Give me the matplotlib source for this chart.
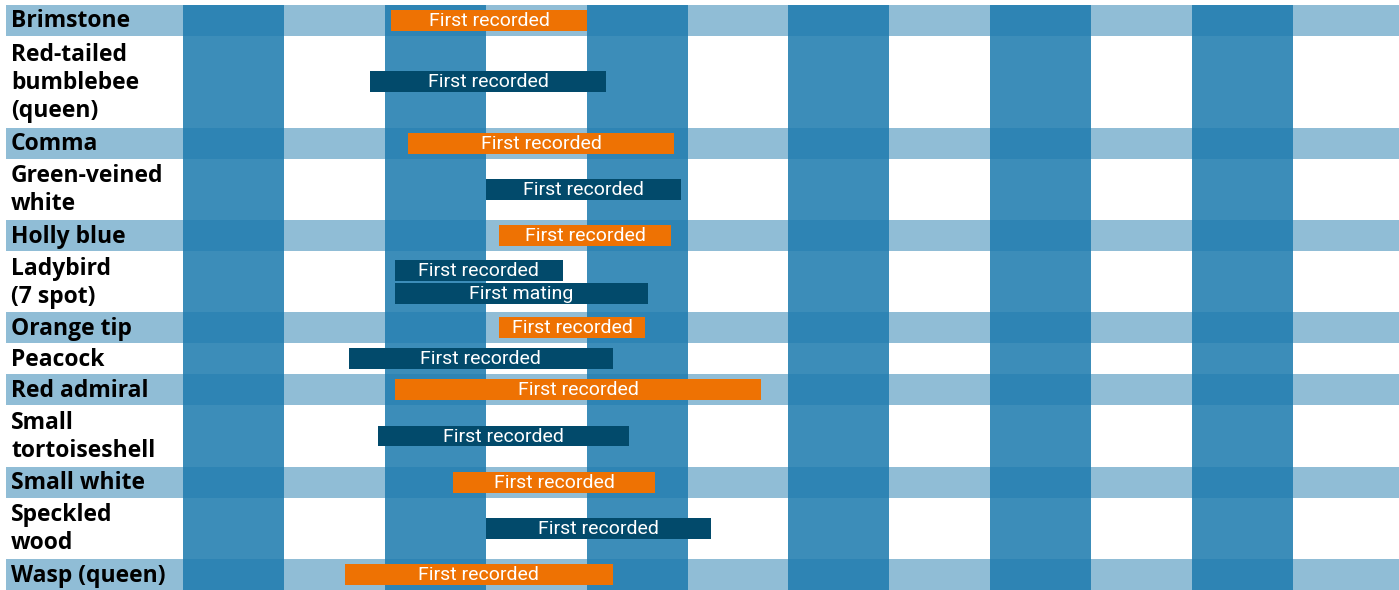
import calendar
import matplotlib
matplotlib.use("Agg")
import matplotlib.pyplot as plt
from matplotlib.patches import Rectangle

# species rows, top to bottom
species = ["Brimstone", "Red-tailed\nbumblebee\n(queen)", "Comma", "Green-veined\nwhite",
           "Holly blue", "Ladybird\n(7 spot)", "Orange tip", "Peacock", "Red admiral",
           "Small\ntortoiseshell", "Small white", "Speckled\nwood", "Wasp (queen)"]
# events per species (mm-dd)
events = [["First recorded"], ["First recorded"], ["First recorded"], ["First recorded"],
          ["First recorded"], ["First recorded", "First mating"], ["First recorded"],
          ["First recorded"], ["First recorded"], ["First recorded"], ["First recorded"],
          ["First recorded"], ["First recorded"]]
starts = [["03-03"], ["02-25"], ["03-08"], ["04-01"], ["04-05"], ["03-04", "03-04"],
          ["04-05"], ["02-19"], ["03-04"], ["02-27"], ["03-22"], ["04-01"], ["02-18"]]
ends = [["05-01"], ["05-07"], ["05-28"], ["05-30"], ["05-27"], ["04-24", "05-20"],
        ["05-19"], ["05-09"], ["06-23"], ["05-14"], ["05-22"], ["06-08"], ["05-09"]]
months = list(range(12))

LIGHT = "#90BDD6"
COL = "#217DB0"
ORANGE = "#EE7203"
NAVY = "#024A6B"


def month_pos(s):
    m, d = (int(v) for v in s.split("-"))
    return m - 1 + (d - 1) / calendar.monthrange(2023, m)[1]


# row height grows with the number of label lines
heights = [31 + 30.5 * s.count("\n") for s in species]
total = sum(heights)

fig = plt.figure(figsize=(13.99, 5.90), dpi=100)
ax = fig.add_axes([6 / 1399, 0, 1 - 6 / 1399, 585 / 590])
mw = 100.9  # pixels per month
ax.set_xlim(-(183 - 6) / mw, (1399 - 183) / mw)
ax.set_ylim(total, 0)
ax.axis("off")

x0, x1 = ax.get_xlim()
y = 0
for i, (name, h) in enumerate(zip(species, heights)):
    if i % 2 == 0:
        ax.add_patch(Rectangle((x0, y), x1 - x0, h, color=LIGHT, lw=0, zorder=1))
    ax.text(x0 + 5 / mw, y + h / 2 + 1, name, ha="left", va="center", fontsize=16.5,
            fontweight="bold", family="Open Sans", linespacing=1.22, zorder=5)
    barcol = ORANGE if i % 2 == 0 else NAVY
    n = len(events[i])
    bh = 21
    gap = 2
    block = n * bh + (n - 1) * gap
    by = y + h / 2 - block / 2
    for ev, s, e in zip(events[i], starts[i], ends[i]):
        a, b = month_pos(s), month_pos(e)
        ax.barh(by + bh / 2, b - a, left=a, height=bh, color=barcol, lw=0, zorder=3)
        ax.text((a + b) / 2, by + bh / 2 + 0.5, ev, ha="center", va="center", color="white",
                fontsize=14, family="Roboto", zorder=4)
        by += bh + gap
    y += h

for m in months:
    if m % 2 == 0:
        ax.add_patch(Rectangle((m, 0), 1, total, color=COL, alpha=0.88, lw=0, zorder=2))

fig.savefig("out.png", dpi=100)
